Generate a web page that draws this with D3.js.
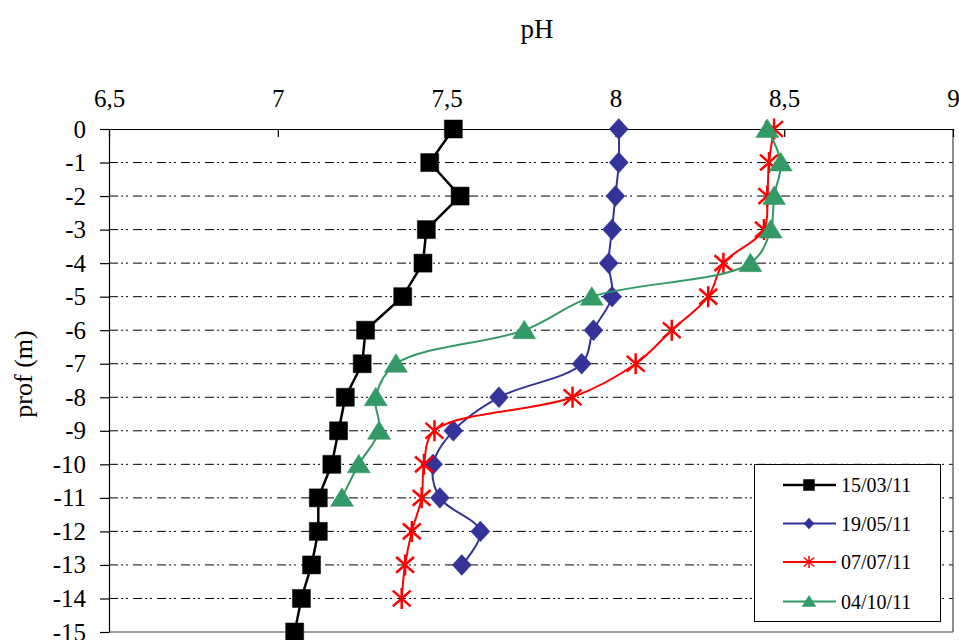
<!DOCTYPE html>
<html>
<head>
<meta charset="utf-8">
<script src="https://cdn.jsdelivr.net/npm/d3@7"></script>
<style>
  html, body { margin: 0; padding: 0; background: #fff; }
  svg { display: block; }
  text { font-family: "Liberation Serif", "Times New Roman", serif; fill: #000; }
</style>
</head>
<body>
<svg id="chart" width="959" height="640"></svg>
<script>
// ---- data ----
const depths = [0, -1, -2, -3, -4, -5, -6, -7, -8, -9, -10, -11, -12, -13, -14, -15];
const seriesNames = ["15/03/11", "19/05/11", "07/07/11", "04/10/11"];
const ph_150311 = [7.52, 7.45, 7.54, 7.44, 7.43, 7.37, 7.26, 7.25, 7.20, 7.18, 7.16, 7.12, 7.12, 7.10, 7.07, 7.05];
const ph_190511 = [8.01, 8.01, 8.00, 7.99, 7.98, 7.99, 7.935, 7.90, 7.655, 7.52, 7.46, 7.48, 7.60, 7.545];
const ph_070711 = [8.47, 8.455, 8.45, 8.44, 8.32, 8.275, 8.167, 8.06, 7.873, 7.464, 7.433, 7.426, 7.397, 7.377, 7.367];
const ph_041011 = [8.45, 8.49, 8.47, 8.46, 8.40, 7.93, 7.73, 7.35, 7.29, 7.30, 7.24, 7.19];
const xTicks = [6.5, 7, 7.5, 8, 8.5, 9];
const yTicks = [0, -1, -2, -3, -4, -5, -6, -7, -8, -9, -10, -11, -12, -13, -14, -15];

const seriesValues = [ph_150311, ph_190511, ph_070711, ph_041011];
const colors = ["#000000", "#333399", "#ff0000", "#339966"];
const markers = ["square", "diamond", "star", "triangle"];
const smooth = [false, true, true, true];
const widths = [2.5, 2, 2, 2];

// ---- layout ----
const svg = d3.select("#chart");
const L = 109, R = 953, T = 129, B = 632;
const x = d3.scaleLinear().domain([6.5, 9]).range([L, R]);
const y = d3.scaleLinear().domain([0, -15]).range([T, B]);

// title
svg.append("text").attr("x", 537).attr("y", 38).attr("text-anchor", "middle")
  .style("font-size", "27px").text("pH");

// y label
svg.append("text").attr("transform", "translate(32,374) rotate(-90)")
  .attr("text-anchor", "middle").style("font-size", "26px").text("prof (m)");

// gridlines
svg.append("g").selectAll("line").data(yTicks.filter(d => d !== 0 && d !== -15)).join("line")
  .attr("x1", L).attr("x2", R).attr("y1", d => y(d)).attr("y2", d => y(d))
  .attr("stroke", "#000").attr("stroke-width", 1)
  .attr("stroke-dasharray", "9,3,2,3,2,5");

// plot border (right, bottom)
svg.append("line").attr("x1", R).attr("x2", R).attr("y1", T).attr("y2", B)
  .attr("stroke", "#444").attr("stroke-width", 1.2);
svg.append("line").attr("x1", L).attr("x2", R).attr("y1", B).attr("y2", B)
  .attr("stroke", "#444").attr("stroke-width", 1.2);

// axes
const fmt = d => String(d).replace(".", ",");
const xAxis = svg.append("g").attr("transform", `translate(0,${T})`)
  .call(d3.axisTop(x).tickValues(xTicks).tickSizeInner(-8).tickSizeOuter(0).tickPadding(22).tickFormat(fmt));
xAxis.selectAll("text").style("font-size", "25px");
const yAxis = svg.append("g").attr("transform", `translate(${L},0)`)
  .call(d3.axisLeft(y).tickValues(yTicks).tickSizeInner(9).tickSizeOuter(0).tickPadding(14).tickFormat(d => String(d)));
yAxis.selectAll("text").style("font-size", "25px");
svg.selectAll(".domain, .tick line").attr("stroke", "#000").attr("stroke-width", 1.2);

// marker shapes
function markerPath(type, s) {
  if (type === "square") return `M${-s},${-s}H${s}V${s}H${-s}Z`;
  if (type === "diamond") return `M0,${-s * 1.1}L${s},0L0,${s * 1.1}L${-s},0Z`;
  if (type === "triangle") return `M0,${-s}L${s * 1.15},${s * 0.85}L${-s * 1.15},${s * 0.85}Z`;
  if (type === "star") return `M${-s * 0.85},${-s * 0.75}L${s * 0.85},${s * 0.75}M${-s * 0.85},${s * 0.75}L${s * 0.85},${-s * 0.75}M0,${-s}V${s}`;
}

// series
const plot = svg.append("g");
seriesValues.forEach((vals, i) => {
  const pts = vals.map((v, j) => [v, depths[j]]);
  const line = d3.line().x(d => x(d[0])).y(d => y(d[1]))
    .curve(smooth[i] ? d3.curveCatmullRom.alpha(0.5) : d3.curveLinear);
  plot.append("path").datum(pts).attr("d", line).attr("fill", "none")
    .attr("stroke", colors[i]).attr("stroke-width", widths[i]).attr("stroke-linejoin", "round");
  const sizes = { square: 9, diamond: 9.5, star: 10.5, triangle: 10 };
  plot.append("g").selectAll("path").data(pts).join("path")
    .attr("transform", d => `translate(${x(d[0])},${y(d[1])})`)
    .attr("d", markerPath(markers[i], sizes[markers[i]]))
    .attr("fill", markers[i] === "star" ? "none" : colors[i])
    .attr("stroke", colors[i]).attr("stroke-width", markers[i] === "star" ? 2.5 : 0.5);
});

// legend
const lg = svg.append("g");
lg.append("rect").attr("x", 754.5).attr("y", 464.5).attr("width", 186).attr("height", 157)
  .attr("fill", "#fff").attr("stroke", "#000").attr("stroke-width", 1);
const rowY = [485, 523.5, 562, 601.5];
seriesNames.forEach((name, i) => {
  const g = lg.append("g").attr("transform", `translate(0,${rowY[i]})`);
  g.append("line").attr("x1", 783).attr("x2", 836).attr("y1", 0).attr("y2", 0)
    .attr("stroke", colors[i]).attr("stroke-width", widths[i]);
  const ls = { square: 5.5, diamond: 5, star: 6, triangle: 6 };
  g.append("path").attr("transform", "translate(809,0)")
    .attr("d", markerPath(markers[i], ls[markers[i]]))
    .attr("fill", markers[i] === "star" ? "none" : colors[i])
    .attr("stroke", colors[i]).attr("stroke-width", markers[i] === "star" ? 1.5 : 0.5);
  g.append("text").attr("x", 841).attr("y", 0).attr("dy", "0.35em")
    .style("font-size", "20px").text(name);
});
</script>
</body>
</html>
